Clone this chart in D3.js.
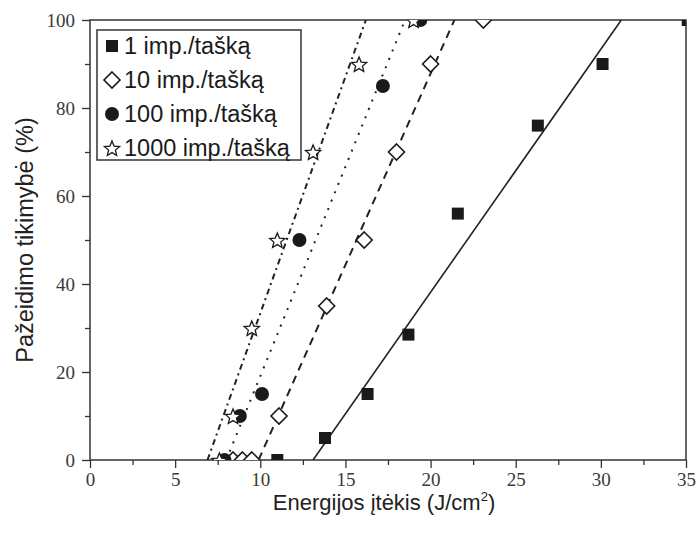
<!DOCTYPE html>
<html>
<head>
<meta charset="utf-8">
<script src="https://cdn.jsdelivr.net/npm/d3@7"></script>
<style>
  html, body { margin: 0; padding: 0; background: #fff; }
  svg { display: block; }
</style>
</head>
<body>
<script>
// Damage probability vs. energy fluence for different pulses-per-spot counts
const seriesNames = ["1 imp./tašką", "10 imp./tašką", "100 imp./tašką", "1000 imp./tašką"];

const x1 = [11.0, 13.8, 16.3, 18.7, 21.6, 26.3, 30.1, 35.1];
const y1 = [0, 5, 15, 28.5, 56, 76, 90, 100];

const x10 = [8.4, 8.95, 9.5, 11.1, 13.9, 16.1, 18.0, 20.0, 23.1];
const y10 = [0, 0, 0, 10, 35, 50, 70, 90, 100];

const x100 = [7.9, 8.8, 10.1, 12.3, 17.2, 19.4];
const y100 = [0, 10, 15, 50, 85, 100];

const x1000 = [7.6, 8.4, 9.5, 11.0, 13.1, 15.8, 19.0];
const y1000 = [0, 10, 30, 50, 70, 90, 100];

// Linear fits: fluence where each fit crosses 0 % and 100 %
const fitAt0 = [13.1, 9.9, 8.0, 6.9];
const fitAt100 = [31.2, 21.4, 18.5, 16.2];

const xTicks = [0, 5, 10, 15, 20, 25, 30, 35];
const xMinor = [2.5, 7.5, 12.5, 17.5, 22.5, 27.5, 32.5];
const yTicks = [0, 20, 40, 60, 80, 100];
const yMinor = [10, 30, 50, 70, 90];

const xTitle = "Energijos įtėkis (J/cm";
const yTitle = "Pažeidimo tikimybė (%)";

const W = 700, H = 535;
const m = { left: 90, top: 20, right: 14, bottom: 75 };
const w = W - m.left - m.right, h = H - m.top - m.bottom;

const svg = d3.select("body").append("svg").attr("width", W).attr("height", H);
const g = svg.append("g").attr("transform", `translate(${m.left},${m.top})`);

const x = d3.scaleLinear().domain([0, 35]).range([0, w]);
const y = d3.scaleLinear().domain([0, 100]).range([h, 0]);

svg.append("defs").append("clipPath").attr("id", "plotClip")
  .append("rect").attr("x", 0).attr("y", 0).attr("width", w).attr("height", h);

const axisColor = "#333";
const tickFont = "'Liberation Serif', 'Times New Roman', serif";
const sansFont = "'Liberation Sans', Arial, sans-serif";

// Frame
g.append("rect").attr("x", 0).attr("y", 0).attr("width", w).attr("height", h)
  .attr("fill", "none").attr("stroke", axisColor).attr("stroke-width", 1.5);

// Axes
function styleAxis(sel) {
  sel.select(".domain").remove();
  sel.selectAll(".tick line").attr("stroke", axisColor).attr("stroke-width", 1.3);
  sel.selectAll(".tick text").attr("font-family", tickFont).attr("font-size", 19).attr("fill", "#3a3a3a");
}
const gx = g.append("g").attr("transform", `translate(0,${h})`)
  .call(d3.axisBottom(x).tickValues(xTicks).tickSize(8).tickPadding(5).tickFormat(d3.format("d")));
styleAxis(gx);
g.append("g").attr("transform", `translate(0,${h})`)
  .call(d3.axisBottom(x).tickValues(xMinor).tickSize(5).tickFormat(""))
  .call(styleAxis);

const gy = g.append("g")
  .call(d3.axisLeft(y).tickValues(yTicks).tickSize(8).tickPadding(7).tickFormat(d3.format("d")));
styleAxis(gy);
g.append("g")
  .call(d3.axisLeft(y).tickValues(yMinor).tickSize(5).tickFormat(""))
  .call(styleAxis);

// Axis titles
const xt = svg.append("text")
  .attr("x", m.left + w / 2 - 4).attr("y", 510)
  .attr("text-anchor", "middle")
  .attr("font-family", sansFont).attr("font-size", 22).attr("fill", "#222");
xt.append("tspan").text(xTitle);
xt.append("tspan").attr("font-size", 13).attr("dy", -9).text("2");
xt.append("tspan").attr("dy", 9).text(")");

svg.append("text")
  .attr("transform", `translate(33,${m.top + h / 2}) rotate(-90)`)
  .attr("text-anchor", "middle")
  .attr("font-family", sansFont).attr("font-size", 23.5).attr("fill", "#222")
  .text(yTitle);

// Fit lines
const lineStyles = [
  { dash: null, width: 1.6 },
  { dash: "8,6", width: 2 },
  { dash: "2,7", width: 2 },
  { dash: "6,4,2,4", width: 2 }
];
const plot = g.append("g").attr("clip-path", "url(#plotClip)");
fitAt0.forEach((x0, i) => {
  plot.append("line")
    .attr("x1", x(x0)).attr("y1", y(0))
    .attr("x2", x(fitAt100[i])).attr("y2", y(100))
    .attr("stroke", "#222").attr("stroke-width", lineStyles[i].width)
    .attr("stroke-dasharray", lineStyles[i].dash);
});

// Marker shapes
const starPath = (() => {
  const pts = [];
  for (let k = 0; k < 10; k++) {
    const r = k % 2 === 0 ? 8 : 3.6;
    const a = -Math.PI / 2 + k * Math.PI / 5;
    pts.push([r * Math.cos(a), r * Math.sin(a) + 1]);
  }
  return "M" + pts.map(p => p.join(",")).join("L") + "Z";
})();
const markers = [
  sel => sel.append("rect").attr("x", -6).attr("y", -6).attr("width", 12).attr("height", 12).attr("fill", "#1a1a1a"),
  sel => sel.append("path").attr("d", "M0,-8L8,0L0,8L-8,0Z").attr("fill", "#fff").attr("stroke", "#1a1a1a").attr("stroke-width", 1.6),
  sel => sel.append("circle").attr("r", 7).attr("fill", "#1a1a1a"),
  sel => sel.append("path").attr("d", starPath).attr("fill", "#fff").attr("stroke", "#1a1a1a").attr("stroke-width", 1.3).attr("stroke-linejoin", "miter")
];

const data = [
  d3.zip(x1, y1), d3.zip(x10, y10), d3.zip(x100, y100), d3.zip(x1000, y1000)
];
data.forEach((pts, i) => {
  plot.append("g").selectAll("g").data(pts).join("g")
    .attr("transform", d => `translate(${x(d[0])},${y(d[1])})`)
    .each(function () { markers[i](d3.select(this)); });
});

// Legend
const lg = g.append("g").attr("transform", "translate(7,10)");
lg.append("rect").attr("x", 0).attr("y", 0).attr("width", 204).attr("height", 130)
  .attr("fill", "#fff").attr("stroke", axisColor).attr("stroke-width", 1.5);
seriesNames.forEach((name, i) => {
  const row = lg.append("g").attr("transform", `translate(15,${16 + i * 34})`);
  markers[i](row);
  row.append("text").attr("x", 12).attr("y", 0).attr("dy", "0.36em")
    .attr("font-family", sansFont).attr("font-size", 23.5).attr("fill", "#1a1a1a")
    .text(name);
});
</script>
</body>
</html>
